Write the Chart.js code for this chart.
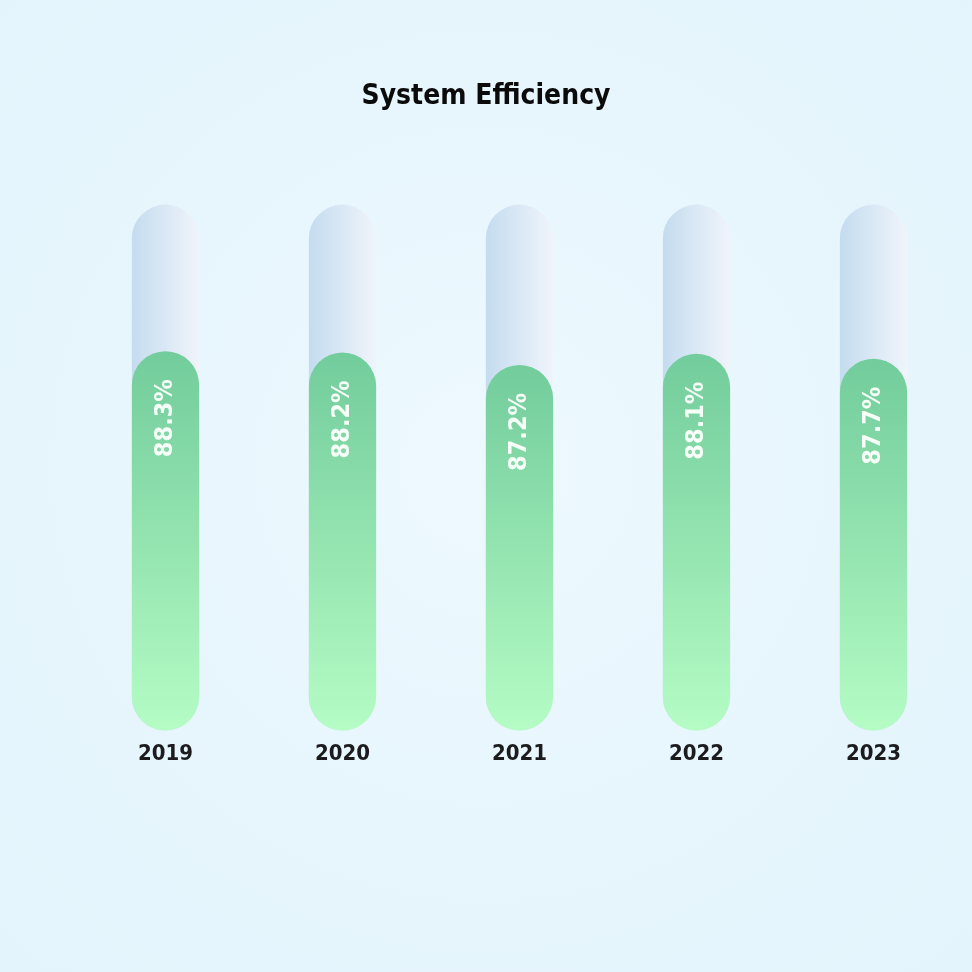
<!DOCTYPE html>
<html>
<head>
<meta charset="utf-8">
<script src="https://cdn.jsdelivr.net/npm/chart.js@4"></script>
<style>
  html, body { margin: 0; padding: 0; }
  body {
    width: 972px; height: 972px;
    background: radial-gradient(circle at 50% 48%, #edf9fe 0%, #e8f6fd 45%, #e3f4fc 100%);
  }
  #wrap { width: 972px; height: 972px; }
</style>
</head>
<body>
<div id="wrap"><canvas id="myChart"></canvas></div>
<script>
'use strict';
let years = ['2019', '2020', '2021', '2022', '2023']
let efficiency = [88.3, 88.2, 87.2, 88.1, 87.7]
let trackValues = [100, 100, 100, 100, 100]
let axisMin = 58
let axisMax = 100

let condensed = "'Liberation Sans Narrow', 'DejaVu Sans Condensed', sans-serif"

function barBox(chart, index){
  let x = chart.scales.x
  let step = x.width / years.length
  let w = step * 0.38
  let center = x.getPixelForValue(index)
  return { left: center - w / 2, right: center + w / 2 }
}

function trackColor(context){
  let chart = context.chart
  if(!chart.chartArea || !chart.scales.x) return '#d6e7f4'
  let box = barBox(chart, context.dataIndex)
  let g = chart.ctx.createLinearGradient(box.left, 0, box.right, 0)
  g.addColorStop(0, '#c4dcef')
  g.addColorStop(1, '#f0f4fb')
  return g
}

function greenColor(context){
  let chart = context.chart
  if(!chart.chartArea || !chart.scales.y) return '#8fdfaa'
  let top = chart.scales.y.getPixelForValue(efficiency[context.dataIndex])
  let bottom = chart.chartArea.bottom
  let g = chart.ctx.createLinearGradient(0, top, 0, bottom)
  g.addColorStop(0, '#72cc9b')
  g.addColorStop(1, '#b5fcc5')
  return g
}

// white rotated value labels inside the green bars
const valueLabels = {
  id: 'valueLabels',
  afterDatasetsDraw(chart){
    let ctx = chart.ctx
    let meta = chart.getDatasetMeta(1)
    ctx.save()
    ctx.fillStyle = '#f6fff8'
    ctx.font = '600 25px ' + condensed
    ctx.textAlign = 'right'
    ctx.textBaseline = 'middle'
    meta.data.forEach(function(bar, i){
      ctx.save()
      ctx.translate(bar.x, bar.y + 28)
      ctx.rotate(-Math.PI / 2)
      ctx.fillText(efficiency[i].toFixed(1) + '%', 0, 0)
      ctx.restore()
    })
    ctx.restore()
  }
}

const ctx = document.getElementById('myChart')
const myChart = new Chart(ctx, {
  type: 'bar',
  data: {
    labels: years,
    datasets: [
      {
        label: 'Track',
        data: trackValues,
        base: axisMin,
        backgroundColor: trackColor,
        borderRadius: 40,
        borderSkipped: false,
        grouped: false,
        clip: false,
        order: 2,
        barPercentage: 0.38,
        categoryPercentage: 1
      },
      {
        label: 'Efficiency',
        data: efficiency,
        base: axisMin,
        backgroundColor: greenColor,
        borderRadius: 40,
        borderSkipped: false,
        grouped: false,
        clip: false,
        order: 1,
        barPercentage: 0.38,
        categoryPercentage: 1
      }
    ]
  },
  options: {
    responsive: true,
    maintainAspectRatio: false,
    animation: false,
    layout: { padding: { left: 10, right: 10, top: 0, bottom: 203 } },
    plugins: {
      legend: { display: false },
      tooltip: { enabled: false },
      title: {
        display: true,
        text: 'System Efficiency',
        color: '#0b0b0b',
        font: { family: condensed, size: 28, weight: 'bold' },
        padding: { top: 80, bottom: 91 }
      }
    },
    scales: {
      x: {
        grid: { display: false },
        border: { display: false },
        ticks: {
          color: '#1c1c1e',
          padding: 2,
          font: { family: condensed, size: 22, weight: 'bold' }
        }
      },
      y: {
        min: axisMin,
        max: axisMax,
        grid: { display: false },
        border: { display: false },
        ticks: { display: false },
        afterFit: function(scale){ scale.width = 67 }
      }
    }
  },
  plugins: [valueLabels]
})
</script>
</body>
</html>
